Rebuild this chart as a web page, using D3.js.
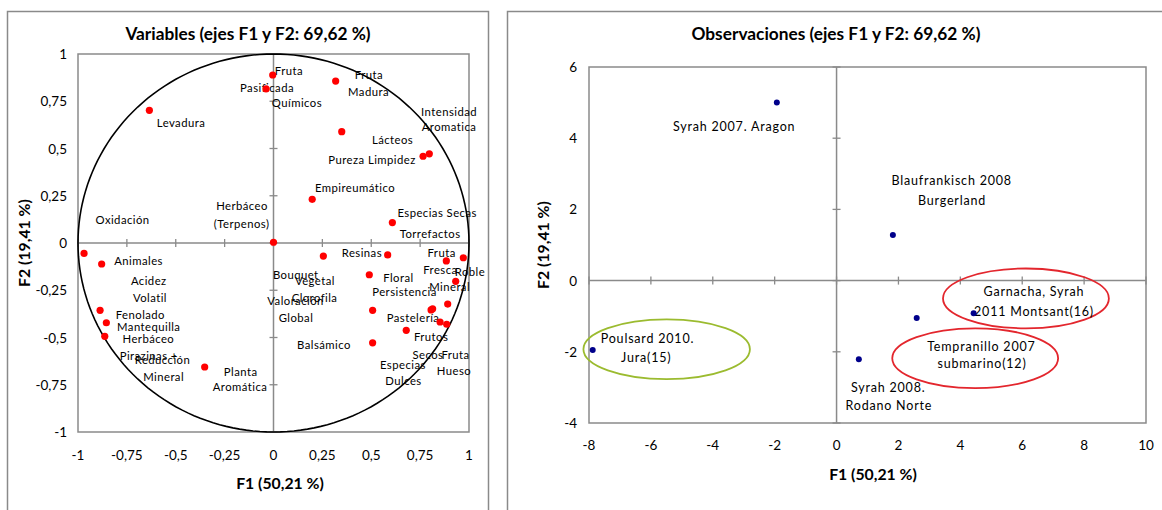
<!DOCTYPE html>
<html>
<head>
<meta charset="utf-8">
<script src="https://cdn.jsdelivr.net/npm/d3@7"></script>
<style>
  body { margin: 0; background: #fff; }
  svg { display: block; }
  text { font-family: Lato, "Open Sans", "DejaVu Sans", sans-serif; fill: #000; }
</style>
</head>
<body>
<svg id="chart" width="1162" height="510"></svg>
<script>
// ---------- Variables panel (correlation circle) ----------
const varTitle = "Variables (ejes F1 y F2: 69,62 %)";
const varTicks = [-1, -0.75, -0.5, -0.25, 0, 0.25, 0.5, 0.75, 1];
const varF1 = [-0.004, -0.038, -0.635, 0.318, 0.349, 0.765, 0.797, 0.198, 0.608, 0.000,
               -0.969, -0.879, -0.887, -0.855, -0.863, -0.352, 0.255, 0.584, 0.490, 0.507,
               0.507, 0.679, 0.806, 0.814, 0.852, 0.886, 0.891, 0.884, 0.971, 0.932];
const varF2 = [0.889, 0.815, 0.702, 0.857, 0.589, 0.459, 0.472, 0.231, 0.108, 0.004,
               -0.055, -0.111, -0.356, -0.422, -0.494, -0.656, -0.069, -0.063, -0.168, -0.356,
               -0.528, -0.462, -0.354, -0.348, -0.418, -0.430, -0.323, -0.095, -0.078, -0.203];
// label lines, anchored at their centre (F1, F2)
const varLabelText = ["Fruta", "Pasificada", "Químicos", "Fruta", "Madura", "Intensidad", "Aromatica",
  "Lácteos", "Pureza Limpidez", "Empireumático", "Especias Secas", "Torrefactos", "Levadura",
  "Oxidación", "Herbáceo", "(Terpenos)", "Animales", "Acidez", "Volatil", "Fenolado", "Mantequilla",
  "Herbáceo", "Pirazinas +", "Reducción", "Mineral", "Planta", "Aromática", "Bouquet", "Vegetal",
  "Valoración", "Clorofila", "Global", "Balsámico", "Resinas", "Floral", "Persistencia", "Pastelería",
  "Frutos", "Secos", "Fruta", "Hueso", "Especias", "Dulces", "Fruta", "Fresca", "Roble", "Mineral"];
const varLabelF1 = [0.079, -0.033, 0.120, 0.488, 0.486, 0.898, 0.898,
  0.609, 0.504, 0.417, 0.837, 0.801, -0.473,
  -0.772, -0.161, -0.163, -0.690, -0.638, -0.632, -0.681, -0.638,
  -0.640, -0.638, -0.568, -0.562, -0.168, -0.171, 0.114, 0.212,
  0.113, 0.210, 0.115, 0.258, 0.452, 0.639, 0.670, 0.714,
  0.806, 0.790, 0.931, 0.923, 0.662, 0.665, 0.860, 0.854, 1.005, 0.901];
const varLabelF2 = [0.915, 0.825, 0.741, 0.889, 0.799, 0.698, 0.614,
  0.545, 0.444, 0.296, 0.164, 0.048, 0.635,
  0.122, 0.196, 0.101, -0.092, -0.199, -0.287, -0.377, -0.441,
  -0.503, -0.593, -0.619, -0.707, -0.681, -0.760, -0.166, -0.197,
  -0.302, -0.286, -0.393, -0.536, -0.048, -0.180, -0.256, -0.393,
  -0.496, -0.589, -0.589, -0.677, -0.642, -0.730, -0.049, -0.139, -0.153, -0.228];

// ---------- Observations panel ----------
const obsTitle = "Observaciones (ejes F1 y F2: 69,62 %)";
const obsXTicks = [-8, -6, -4, -2, 0, 2, 4, 6, 8, 10];
const obsYTicks = [-4, -2, 0, 2, 4, 6];
const obsNames = ["Syrah 2007. Aragon", "Blaufrankisch 2008 Burgerland", "Garnacha, Syrah 2011 Montsant(16)",
                  "Tempranillo 2007 submarino(12)", "Syrah 2008. Rodano Norte", "Poulsard 2010. Jura(15)"];
const obsF1 = [-1.93, 1.82, 4.43, 2.59, 0.72, -7.88];
const obsF2 = [5.00, 1.28, -0.92, -1.05, -2.21, -1.95];
const obsLabelText = ["Syrah 2007. Aragon", "Blaufrankisch 2008", "Burgerland", "Garnacha, Syrah",
  "2011 Montsant(16)", "Tempranillo 2007", "submarino(12)", "Syrah 2008.", "Rodano Norte",
  "Poulsard 2010.", "Jura(15)"];
const obsLabelF1 = [-3.31, 3.72, 3.73, 6.38, 6.38, 4.68, 4.70, 1.67, 1.69, -6.11, -6.15];
const obsLabelF2 = [4.32, 2.81, 2.26, -0.31, -0.87, -1.84, -2.32, -3.00, -3.52, -1.62, -2.17];
// group outlines (centre F1, F2 and half-axes in F units)
const groupCx = [-5.49, 6.12, 4.48];
const groupCy = [-1.93, -0.50, -2.18];
const groupRx = [2.69, 2.68, 2.68];
const groupRy = [0.84, 0.84, 0.84];
const groupColor = ["#9bbb2f", "#e3262d", "#e3262d"];

const axisX = "F1 (50,21 %)";
const axisY = "F2 (19,41 %)";

const fmt = v => String(v).replace(".", ",");
const svg = d3.select("#chart");
const GRID = "#8a8a8a";

function frame(x, y, w, h) {
  svg.append("rect").attr("x", x).attr("y", y).attr("width", w).attr("height", h)
    .attr("fill", "none").attr("stroke", GRID).attr("stroke-width", 1.5);
}

// Draws plot box, centre axes with crossing ticks and outer tick labels.
function axesBox(g, x, y, xTicks, yTicks, xLabelY, yLabelX) {
  const [x0, x1] = x.range(), [y0, y1] = y.range();
  g.append("rect").attr("x", x0).attr("y", y1).attr("width", x1 - x0).attr("height", y0 - y1)
    .attr("fill", "none").attr("stroke", GRID).attr("stroke-width", 1.5);
  g.append("line").attr("x1", x0).attr("x2", x1).attr("y1", y(0)).attr("y2", y(0))
    .attr("stroke", GRID).attr("stroke-width", 1.5);
  g.append("line").attr("x1", x(0)).attr("x2", x(0)).attr("y1", y0).attr("y2", y1)
    .attr("stroke", GRID).attr("stroke-width", 1.5);
  g.selectAll(null).data(xTicks).join("line")
    .attr("x1", d => x(d)).attr("x2", d => x(d))
    .attr("y1", y(0) - 4).attr("y2", y(0) + 4)
    .attr("stroke", GRID).attr("stroke-width", 1.3);
  g.selectAll(null).data(yTicks).join("line")
    .attr("y1", d => y(d)).attr("y2", d => y(d))
    .attr("x1", x(0) - 4).attr("x2", x(0) + 4)
    .attr("stroke", GRID).attr("stroke-width", 1.3);
  g.selectAll(null).data(xTicks).join("text")
    .attr("x", d => x(d)).attr("y", xLabelY)
    .attr("text-anchor", "middle").attr("dominant-baseline", "central")
    .attr("font-size", 13.5).text(fmt);
  g.selectAll(null).data(yTicks).join("text")
    .attr("x", yLabelX).attr("y", d => y(d))
    .attr("text-anchor", "end").attr("dominant-baseline", "central")
    .attr("font-size", 13.5).text(fmt);
}

function titles(g, title, tx, ty, xt, xtx, xty, ytx, yty) {
  g.append("text").attr("x", tx).attr("y", ty).attr("text-anchor", "middle")
    .attr("dominant-baseline", "central").attr("font-size", 17.3).attr("font-weight", 700).text(title);
  g.append("text").attr("x", xtx).attr("y", xty).attr("text-anchor", "middle")
    .attr("dominant-baseline", "central").attr("font-size", 15.8).attr("font-weight", 700).text(xt);
  g.append("text").attr("transform", `translate(${ytx},${yty}) rotate(-90)`)
    .attr("text-anchor", "middle").attr("dominant-baseline", "central")
    .attr("font-size", 15.8).attr("font-weight", 700).text(axisY);
}

// ---------- left panel ----------
frame(7.5, 11.5, 481, 520);
const gL = svg.append("g");
const xL = d3.scaleLinear().domain([-1, 1]).range([78, 469]);
const yL = d3.scaleLinear().domain([-1, 1]).range([432, 54]);
axesBox(gL, xL, yL, varTicks, varTicks, 455, 67);

const circle = d3.range(0, 361, 2).map(a => [Math.cos(a * Math.PI / 180), Math.sin(a * Math.PI / 180)]);
gL.append("path")
  .attr("d", d3.line().x(d => xL(d[0])).y(d => yL(d[1]))(circle))
  .attr("fill", "none").attr("stroke", "#000").attr("stroke-width", 1.6);

gL.selectAll(null).data(varLabelText).join("text")
  .attr("x", (d, i) => xL(varLabelF1[i])).attr("y", (d, i) => yL(varLabelF2[i]))
  .attr("text-anchor", "middle").attr("dominant-baseline", "central")
  .attr("font-size", 11.3).attr("letter-spacing", 0.45).text(d => d);

gL.selectAll(null).data(varF1).join("circle")
  .attr("cx", d => xL(d)).attr("cy", (d, i) => yL(varF2[i])).attr("r", 3.6)
  .attr("fill", "#ff0000");

titles(gL, varTitle, 248, 33, axisX, 280, 482, 23, 243);

// ---------- right panel ----------
frame(507.5, 11.5, 700, 520);
const gR = svg.append("g");
const xR = d3.scaleLinear().domain([-8, 10]).range([589, 1146]);
const yR = d3.scaleLinear().domain([-4, 6]).range([423, 67]);
axesBox(gR, xR, yR, obsXTicks, obsYTicks, 445, 577);

gR.selectAll(null).data(groupCx).join("ellipse")
  .attr("cx", d => xR(d)).attr("cy", (d, i) => yR(groupCy[i]))
  .attr("rx", (d, i) => xR(groupRx[i]) - xR(0)).attr("ry", (d, i) => yR(0) - yR(groupRy[i]))
  .attr("fill", "none").attr("stroke", (d, i) => groupColor[i]).attr("stroke-width", 1.8);

gR.selectAll(null).data(obsLabelText).join("text")
  .attr("x", (d, i) => xR(obsLabelF1[i])).attr("y", (d, i) => yR(obsLabelF2[i]))
  .attr("text-anchor", "middle").attr("dominant-baseline", "central")
  .attr("font-size", 12.5).attr("letter-spacing", 0.8).text(d => d);

gR.selectAll(null).data(obsNames).join("circle")
  .attr("cx", (d, i) => xR(obsF1[i])).attr("cy", (d, i) => yR(obsF2[i])).attr("r", 3)
  .attr("fill", "#00008b");

titles(gR, obsTitle, 836, 33, axisX, 873, 473, 542, 245);
</script>
</body>
</html>
